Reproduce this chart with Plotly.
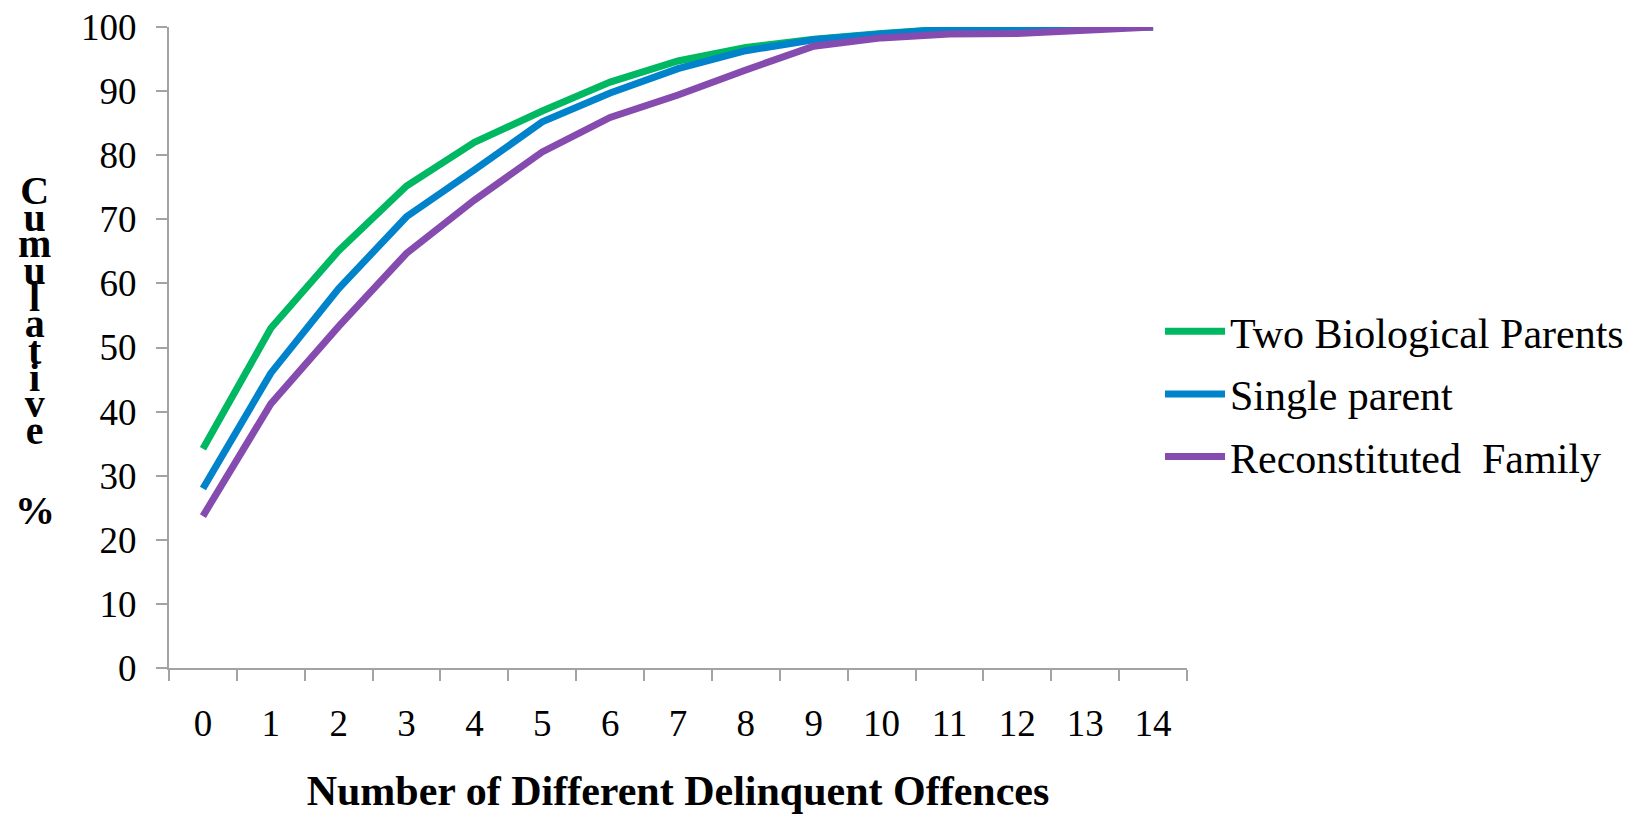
import plotly.graph_objects as go

# Number of different delinquent offences (categories on the x axis)
offences = [str(i) for i in range(15)]

# Cumulative percentage by family structure
two_bio_parents = [34.2, 53.0, 65.1, 75.2, 82.0, 86.9, 91.4, 94.7, 96.8, 98.1, 99.0, 99.7, 100, 100, 100]
single_parent = [28.0, 46.0, 59.2, 70.4, 77.7, 85.2, 89.7, 93.5, 96.3, 98.0, 98.9, 99.7, 100, 100, 100]
reconstituted = [23.7, 41.2, 53.3, 64.7, 73.0, 80.5, 85.9, 89.4, 93.3, 97.0, 98.3, 98.9, 99.0, 99.6, 100]

series_names = ["Two Biological Parents", "Single parent", "Reconstituted  Family"]
series_values = [two_bio_parents, single_parent, reconstituted]
series_colors = ["#00B862", "#0083CB", "#864BAF"]

y_ticks = list(range(0, 101, 10))

W, H = 1632, 814
ML, MR, MT, MB = 169, 445, 27, 146
SERIF = "Liberation Serif, Times New Roman, serif"

fig = go.Figure()
for i, (name, vals, col) in enumerate(zip(series_names, series_values, series_colors)):
    fig.add_trace(go.Scatter(
        x=offences, y=vals, name=name, mode="lines",
        line=dict(color=col, width=7),
        legendgroup=f"g{i}",
    ))


def px_to_paper_x(px):
    return (px - ML) / (W - ML - MR)


def px_to_paper_y(py):
    return (H - MB - py) / (H - MT - MB)


# Vertical stacked axis title: one letter per line, drawn as one text block.
# The line pitch follows the small base font, the glyphs use the larger span size.
stack_word = "Cumulative"
glyph_size = 40
stack_text = "<br>".join(
    f"<span style='font-size:{glyph_size}px'><b>{ch}</b></span>" for ch in stack_word
)
annotations = [
    dict(
        text=stack_text, xref="paper", yref="paper",
        x=px_to_paper_x(34), y=px_to_paper_y(310),
        xanchor="center", yanchor="middle", showarrow=False, align="center",
        font=dict(family=SERIF, size=20.5, color="black"),
    ),
    dict(
        text="<b>%</b>", xref="paper", yref="paper",
        x=px_to_paper_x(35), y=px_to_paper_y(510),
        xanchor="center", yanchor="middle", showarrow=False,
        font=dict(family=SERIF, size=glyph_size, color="black"),
    ),
]

axis_color = "#A3A3A3"

fig.update_layout(
    width=W, height=H,
    margin=dict(l=ML, r=MR, t=MT, b=MB, pad=0, autoexpand=False),
    paper_bgcolor="white", plot_bgcolor="white",
    font=dict(family=SERIF, color="black"),
    showlegend=True,
    legend=dict(
        x=px_to_paper_x(1160), y=px_to_paper_y(394),
        xanchor="left", yanchor="middle",
        font=dict(family=SERIF, size=42, color="black"),
        bgcolor="rgba(0,0,0,0)",
        tracegroupgap=5, traceorder="grouped",
        itemwidth=60,
    ),
    annotations=annotations,
    xaxis=dict(
        type="category", range=[-0.5, 14.5], automargin=False,
        tickson="boundaries", ticks="outside", ticklen=11, tickwidth=2,
        tickcolor=axis_color, showline=True, linecolor=axis_color, linewidth=2,
        showgrid=False, zeroline=False,
        tickfont=dict(family=SERIF, size=37, color="black"),
        ticklabelstandoff=22,
        title=dict(text="<b>Number of Different Delinquent Offences</b>",
                   font=dict(family=SERIF, size=42, color="black"), standoff=34),
    ),
    yaxis=dict(
        range=[0, 100], tickvals=y_ticks, automargin=False,
        ticks="outside", ticklen=11, tickwidth=2, tickcolor=axis_color,
        showline=True, linecolor=axis_color, linewidth=2,
        showgrid=False, zeroline=False,
        tickfont=dict(family=SERIF, size=37, color="black"),
        ticklabelstandoff=12,
    ),
)

fig.write_html("out.html")
